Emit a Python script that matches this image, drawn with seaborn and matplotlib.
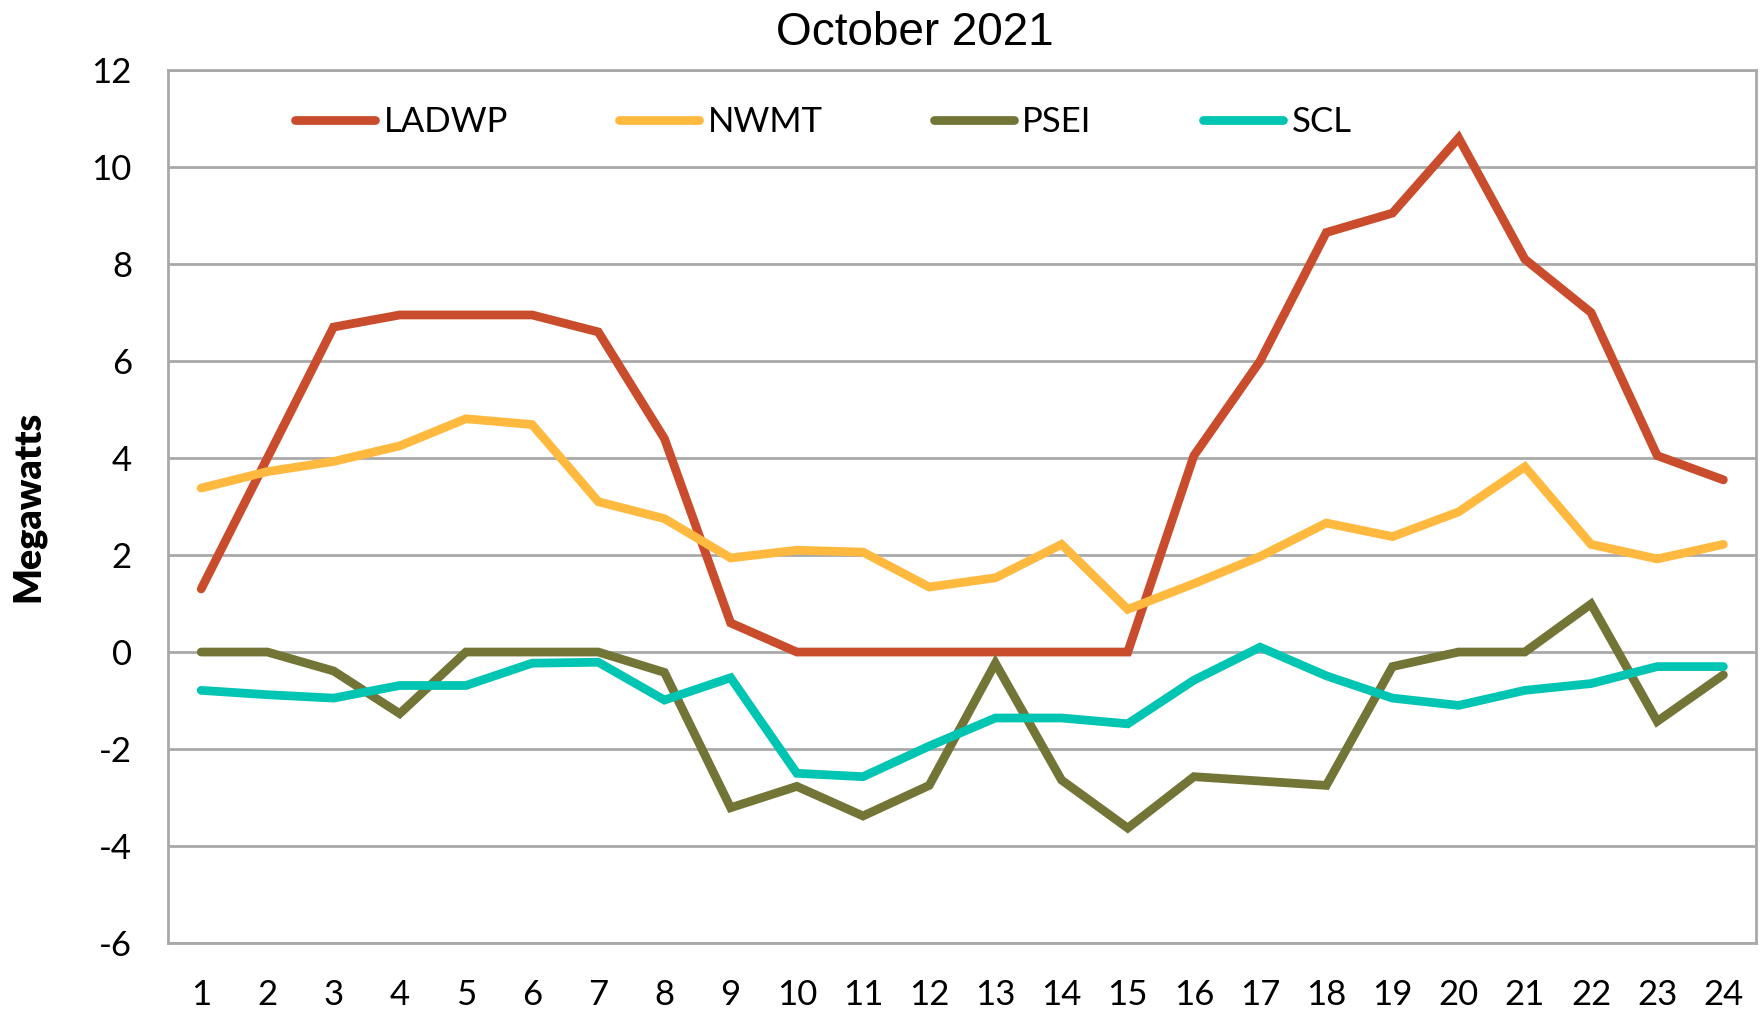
import pandas as pd
import seaborn as sns
import matplotlib.pyplot as plt

# hourly values (megawatts)
hours = list(range(1, 25))
ladwp = [1.3, 4.0, 6.7, 6.95, 6.95, 6.95, 6.6, 4.4, 0.6, 0.0, 0.0, 0.0,
         0.0, 0.0, 0.0, 4.05, 6.0, 8.65, 9.05, 10.6, 8.1, 7.0, 4.05, 3.55]
nwmt = [3.38, 3.72, 3.93, 4.25, 4.81, 4.69, 3.1, 2.75, 1.94, 2.1, 2.06, 1.34,
        1.53, 2.22, 0.88, 1.41, 1.97, 2.66, 2.38, 2.89, 3.82, 2.22, 1.92, 2.22]
psei = [0.0, 0.0, -0.39, -1.27, 0.0, 0.0, 0.0, -0.42, -3.21, -2.77, -3.38, -2.75,
        -0.23, -2.64, -3.63, -2.57, -2.66, -2.75, -0.3, 0.0, 0.0, 0.99, -1.43, -0.47]
scl = [-0.79, -0.88, -0.95, -0.69, -0.69, -0.23, -0.21, -0.99, -0.53, -2.5, -2.57, -1.94,
       -1.36, -1.36, -1.48, -0.58, 0.1, -0.49, -0.95, -1.1, -0.79, -0.65, -0.3, -0.3]
series = ["LADWP", "NWMT", "PSEI", "SCL"]
colors = ["#C94D2C", "#FFB93E", "#737536", "#00C5B2"]
yticks = list(range(-6, 13, 2))

df = pd.DataFrame({"Hour": hours, "LADWP": ladwp, "NWMT": nwmt, "PSEI": psei, "SCL": scl})
long_df = df.melt(id_vars="Hour", var_name="Entity", value_name="Megawatts")

sns.set_style("white")
plt.rcParams["font.family"] = ["Lato", "DejaVu Sans"]
plt.rcParams["axes.unicode_minus"] = False
plt.rcParams["text.color"] = "black"
plt.rcParams["axes.labelcolor"] = "black"

fig = plt.figure(figsize=(17.6, 10.15), dpi=100)
ax = fig.add_axes([0.0955, 0.0709, 0.9025, 0.8601])

sns.lineplot(data=long_df, x="Hour", y="Megawatts", hue="Entity", hue_order=series,
             palette=colors, linewidth=6.3, sort=False, ax=ax, zorder=3,
             solid_capstyle="round", solid_joinstyle="miter")

grid_col = "#A9A9A9"
ax.set_xlim(0.5, 24.5)
ax.set_ylim(-6, 12)
ax.set_xticks(hours)
ax.set_yticks(yticks)
ax.yaxis.grid(True, color=grid_col, linewidth=2)
ax.xaxis.grid(False)
for s in ax.spines.values():
    s.set_color(grid_col)
    s.set_linewidth(2)
ax.tick_params(axis="both", length=0, labelsize=25, colors="black")
ax.tick_params(axis="x", pad=26)
ax.tick_params(axis="y", pad=26)

ax.set_xlabel("")
ax.set_ylabel("Megawatts", fontsize=27, fontweight="heavy")
ax.yaxis.set_label_coords(-0.077, 0.5)

handles, labels = ax.get_legend_handles_labels()
ax.legend(handles, labels, loc="center left", bbox_to_anchor=(0.08, 0.94),
          ncol=4, frameon=False, fontsize=25, handlelength=2.3, handletextpad=0.25,
          columnspacing=3.2, borderpad=0, borderaxespad=0)

fig.text(0.52, 0.967, "October 2021", ha="center", va="center", color="black",
         fontsize=33, family=["Liberation Sans", "DejaVu Sans"])

fig.savefig("out.png", dpi=100)
